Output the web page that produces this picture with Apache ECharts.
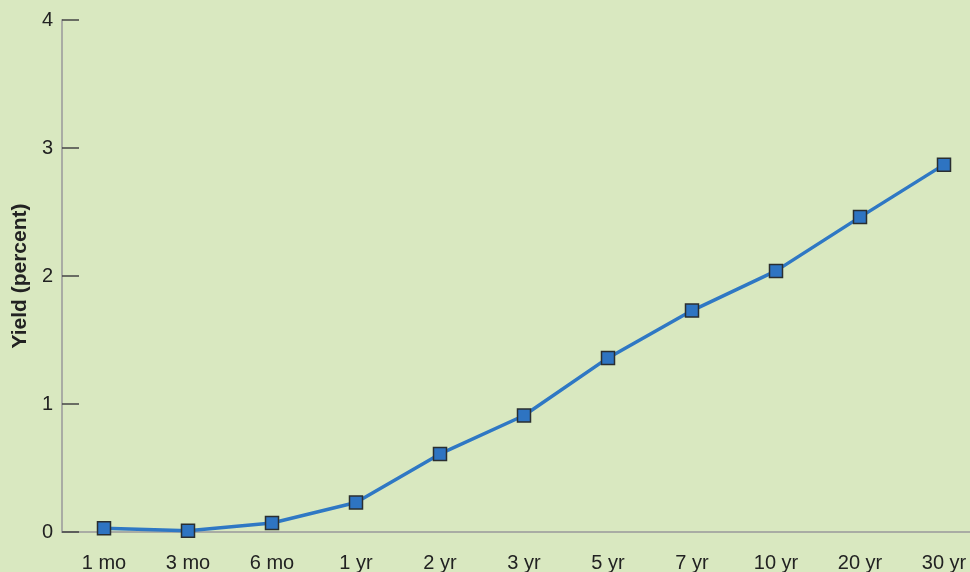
<!DOCTYPE html>
<html>
<head>
<meta charset="utf-8">
<script src="https://cdn.jsdelivr.net/npm/echarts@6/dist/echarts.min.js"></script>
<style>
html,body{margin:0;padding:0;background:#d9e8c0;}
#chart{width:970px;height:572px;}
</style>
</head>
<body>
<div id="chart"></div>
<script>
const categories = ['1 mo','3 mo','6 mo','1 yr','2 yr','3 yr','5 yr','7 yr','10 yr','20 yr','30 yr'];
const yields = [0.03, 0.01, 0.07, 0.23, 0.61, 0.91, 1.36, 1.73, 2.04, 2.46, 2.87];
const yTicks = [0, 1, 2, 3, 4];

const chart = echarts.init(document.getElementById('chart'));
chart.setOption({
  backgroundColor: '#d9e8c0',
  animation: false,
  grid: {left: 62, right: -16, top: 20, bottom: 40, containLabel: false, outerBoundsMode: 'none'},
  xAxis: {
    type: 'category',
    data: categories,
    boundaryGap: true,
    axisLine: {lineStyle: {color: '#a9aca4', width: 2}},
    axisTick: {alignWithLabel: true, length: 12, lineStyle: {color: '#333', width: 1.5}},
    axisLabel: {color: '#222', fontSize: 20, fontFamily: 'Liberation Sans, Arial, sans-serif', margin: 21, hideOverlap: false},
    splitLine: {show: false}
  },
  yAxis: {
    type: 'value',
    min: yTicks[0],
    max: yTicks[yTicks.length - 1],
    interval: 1,
    name: 'Yield (percent)',
    nameLocation: 'middle',
    nameRotate: 90,
    nameGap: 31,
    nameTextStyle: {color: '#222', fontSize: 21, fontWeight: 'bold', fontFamily: 'Liberation Sans, Arial, sans-serif'},
    axisLine: {show: true, lineStyle: {color: '#a9aca4', width: 2}},
    axisTick: {show: true, inside: true, length: 17, lineStyle: {color: '#444', width: 1.5}},
    axisLabel: {color: '#222', fontSize: 20, fontFamily: 'Liberation Sans, Arial, sans-serif', margin: 9},
    splitLine: {show: false}
  },
  series: [{
    type: 'line',
    data: yields,
    symbol: 'rect',
    symbolSize: 13,
    lineStyle: {color: '#2f78c4', width: 3.5},
    itemStyle: {color: '#2e74c2', borderColor: '#2a2e30', borderWidth: 1.5},
    z: 5
  }]
});
</script>
</body>
</html>
